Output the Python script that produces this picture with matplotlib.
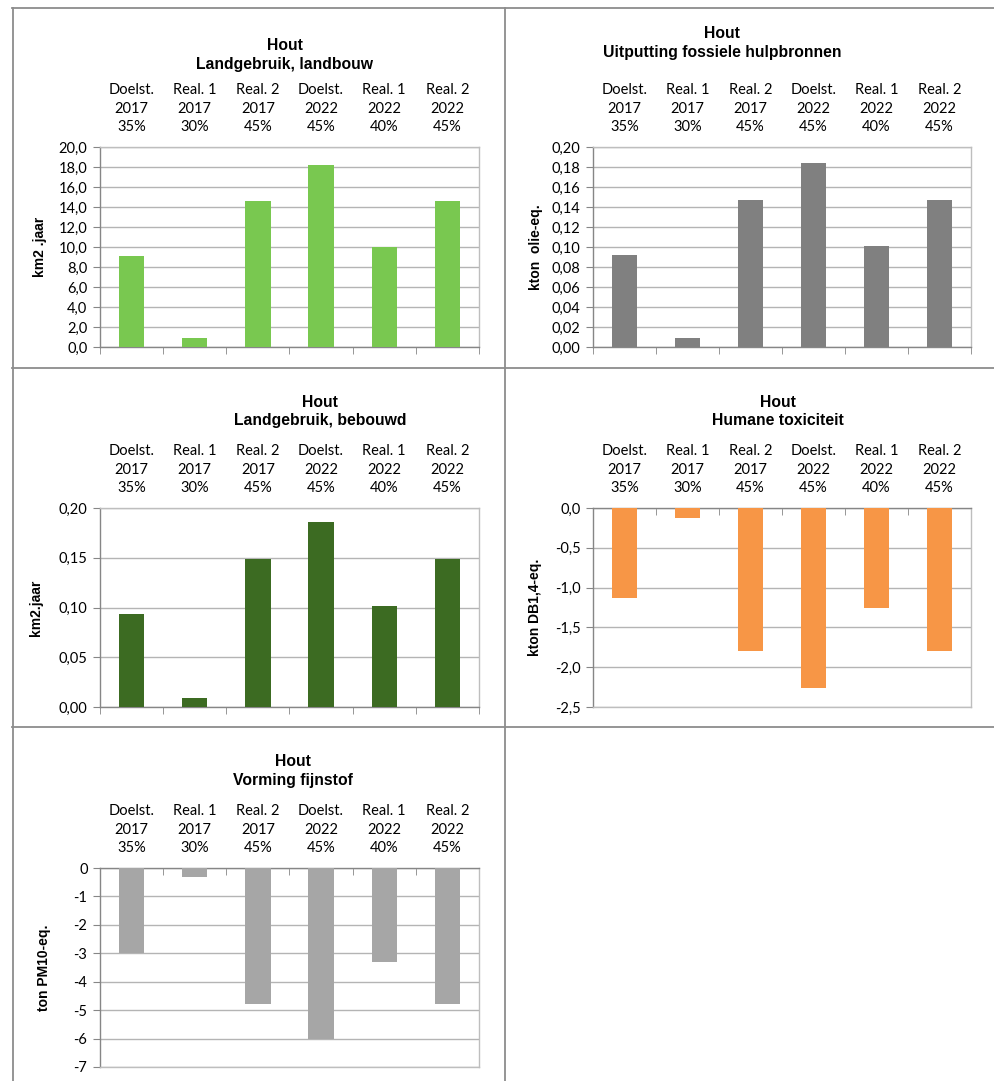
import matplotlib
matplotlib.use('Agg')
import matplotlib.pyplot as plt
import matplotlib.ticker as ticker
from matplotlib.lines import Line2D
import numpy as np

# data
categories = ['Doelst.\n2017\n35%', 'Real. 1\n2017\n30%', 'Real. 2\n2017\n45%',
              'Doelst.\n2022\n45%', 'Real. 1\n2022\n40%', 'Real. 2\n2022\n45%']

landbouw = [9.1, 0.9, 14.6, 18.2, 10.0, 14.6]
fossiel = [0.092, 0.009, 0.147, 0.184, 0.101, 0.147]
bebouwd = [0.093, 0.009, 0.149, 0.186, 0.102, 0.149]
toxiciteit = [-1.13, -0.12, -1.80, -2.26, -1.25, -1.80]
fijnstof = [-3.0, -0.3, -4.8, -6.0, -3.3, -4.8]

W, H = 995, 1081
fig = plt.figure(figsize=(W / 100, H / 100), dpi=100)
fig.patch.set_facecolor('white')

TICK_FONT = 'Lato'
BOLD_FONT = 'Liberation Sans'


def fx(x):
    return x / W


def fy(y):
    return 1 - y / H


def comma_fmt(decimals):
    def f(v, pos):
        s = f'{v:.{decimals}f}'
        if s.startswith('-') and float(s) == 0:
            s = s[1:]
        return s.replace('.', ',')
    return ticker.FuncFormatter(f)


def panel(box, values, color, ylim, ystep, decimals, ylabel, ylabel_x,
          title2, title_x, title_y):
    x0, y0, x1, y1 = box
    ax = fig.add_axes([fx(x0), fy(y1), (x1 - x0) / W, (y1 - y0) / H])
    x = np.arange(len(values))
    ax.bar(x, values, width=0.4, color=color, zorder=3)
    ax.set_xlim(-0.5, len(values) - 0.5)
    ax.set_ylim(*ylim)
    lo, hi = min(ylim), max(ylim)
    ax.set_yticks(np.arange(lo, hi + ystep / 2, ystep))
    ax.yaxis.set_major_formatter(comma_fmt(decimals))
    ax.grid(axis='y', color='#B4B4B4', linewidth=1.0, zorder=0)

    negative = hi <= 0
    ax.set_xticks(x, categories)
    ax.set_xticks(np.arange(-0.5, len(values), 1.0), minor=True)
    ax.tick_params(axis='x', which='major', length=0, top=False, bottom=False,
                   labeltop=True, labelbottom=False, pad=9,
                   labelsize=10.5)
    for lab in ax.get_xticklabels():
        lab.set_fontfamily(TICK_FONT)
        lab.set_linespacing(1.45)
    if negative:
        ax.tick_params(axis='x', which='minor', top=True, bottom=False,
                       direction='in', length=5, color='#868686')
    else:
        ax.tick_params(axis='x', which='minor', top=False, bottom=True,
                       direction='out', length=5, color='#868686')
    ax.tick_params(axis='y', length=5, color='#868686', labelsize=10.5, pad=4)
    for lab in ax.get_yticklabels():
        lab.set_fontfamily(TICK_FONT)

    for side in ['top', 'right', 'bottom', 'left']:
        ax.spines[side].set_color('#BEBEBE')
        ax.spines[side].set_linewidth(1.0)
    ax.spines['left'].set_color('#868686')
    if negative:
        ax.spines['top'].set_color('#868686')
    else:
        ax.spines['bottom'].set_color('#868686')

    ax.set_ylabel(ylabel, fontfamily=BOLD_FONT, fontweight='bold', fontsize=10,
                  va='center')
    ax.yaxis.set_label_coords((ylabel_x - x0) / (x1 - x0), 0.5)

    fig.text(fx(title_x), fy(title_y), 'Hout', ha='center', va='center',
             fontfamily=BOLD_FONT, fontweight='bold', fontsize=11.3)
    fig.text(fx(title_x), fy(title_y + 18.5), title2, ha='center', va='center',
             fontfamily=BOLD_FONT, fontweight='bold', fontsize=11.3)
    return ax


panel((100, 147, 479, 347), landbouw, '#79C850', (0, 20), 2, 1,
      'km2 .jaar', 40, 'Landgebruik, landbouw', 285, 46)
panel((593, 147, 971, 347), fossiel, '#808080', (0, 0.2), 0.02, 2,
      'kton  olie-eq.', 536, 'Uitputting fossiele hulpbronnen', 722, 34)
panel((100, 508, 479, 707), bebouwd, '#3C6B22', (0, 0.2), 0.05, 2,
      'km2.jaar', 36, 'Landgebruik, bebouwd', 320, 402)
panel((593, 508, 971, 707), toxiciteit, '#F79646', (-2.5, 0), 0.5, 1,
      'kton DB1,4-eq.', 535, 'Humane toxiciteit', 778, 402)
panel((100, 868, 479, 1067), fijnstof, '#A6A6A6', (-7, 0), 1, 0,
      'ton PM10-eq.', 44, 'Vorming fijnstof', 293, 762)

# panel frames
frame = dict(color='#8C8C8C', linewidth=1.3)
for yy in [8, 368, 727]:
    fig.add_artist(Line2D([fx(12), fx(995)], [fy(yy), fy(yy)], **frame))
for xx in [12.5, 505.5]:
    fig.add_artist(Line2D([fx(xx), fx(xx)], [fy(8), fy(1081)], **frame))

fig.savefig('out.png', dpi=100, facecolor='white')
